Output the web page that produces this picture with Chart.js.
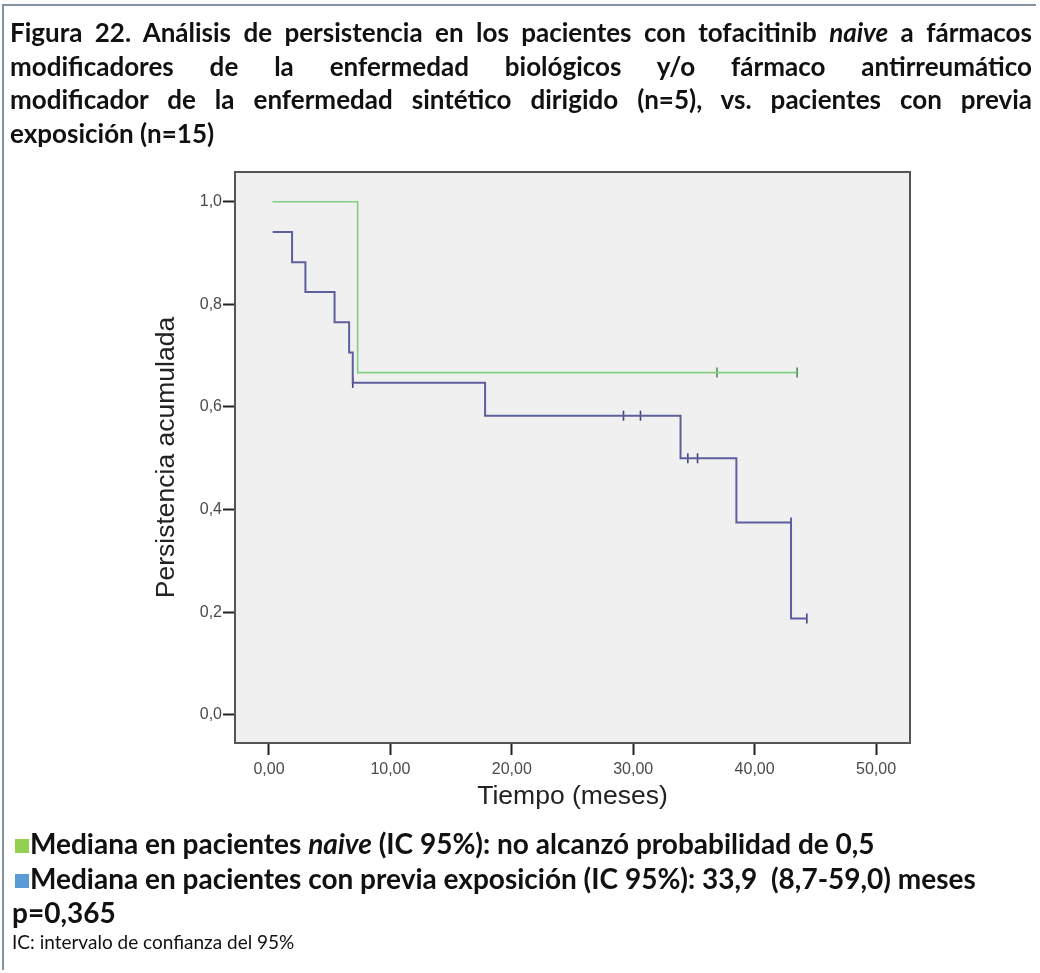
<!DOCTYPE html>
<html>
<head>
<meta charset="utf-8">
<script src="https://cdn.jsdelivr.net/npm/chart.js@4"></script>
<style>
  html, body { margin:0; padding:0; background:#fff; }
  #wrap { position:relative; width:1040px; height:973px; overflow:hidden; }
  #frame { position:absolute; left:2px; top:4px; width:1034px; height:966px; border:2px solid #8593a0; border-right:none; border-bottom:none; box-sizing:border-box; }
  canvas { position:absolute; left:0; top:0; }
  .title { position:absolute; left:10px; top:16px; width:1022px; font-family:Lato, "Noto Sans", sans-serif; font-weight:700; font-size:26px; color:#111; line-height:33.5px; }
  .jl { text-align:justify; text-align-last:justify; white-space:nowrap; }
  .foot { position:absolute; left:15px; font-family:Lato, "Noto Sans", sans-serif; font-weight:700; font-size:28px; line-height:34px; color:#111; white-space:nowrap; }
  .sq { display:inline-block; width:14px; height:14px; margin-right:1px; vertical-align:1px; }
</style>
</head>
<body>
<div id="wrap">
  <canvas id="c" width="1040" height="973"></canvas>
  <div id="frame"></div>
  <div class="title">
    <div class="jl">Figura 22. Análisis de persistencia en los pacientes con tofacitinib <i>naive</i> a fármacos</div>
    <div class="jl">modificadores de la enfermedad biológicos y/o fármaco antirreumático</div>
    <div class="jl">modificador de la enfermedad sintético dirigido (n=5), vs. pacientes con previa</div>
    <div>exposición (n=15)</div>
  </div>
  <div class="foot" style="top:826px;"><span class="sq" style="background:#92D050"></span>Mediana en pacientes <i>naive</i> (IC 95%): no alcanzó probabilidad de 0,5</div>
  <div class="foot" style="top:861px;"><span class="sq" style="background:#5B9BD5"></span>Mediana en pacientes con previa exposición (IC 95%): 33,9&nbsp;&nbsp;(8,7-59,0) meses</div>
  <div class="foot" style="top:895px; left:12px;">p=0,365</div>
  <div class="foot" style="top:930px; left:12px; font-weight:400; font-size:19px; line-height:24px;">IC: intervalo de confianza del 95%</div>
</div>
<script>
// ---- data ----
const xTicks = [0, 10, 20, 30, 40, 50];
const xTickLabels = ['0,00', '10,00', '20,00', '30,00', '40,00', '50,00'];
const yTicks = [0, 0.2, 0.4, 0.6, 0.8, 1.0];
const yTickLabels = ['0,0', '0,2', '0,4', '0,6', '0,8', '1,0'];

// naive patients (green): event times and survival after each step
const naiveTimes = [0.3, 7.3, 43.5];
const naiveSurv  = [1.0, 0.667, 0.667];
const naiveCensorTimes = [36.9, 43.5];
const naiveCensorSurv  = [0.667, 0.667];

// previously exposed patients (blue)
const prevTimes = [0.3, 1.9, 3.0, 5.4, 6.6, 6.9, 17.8, 33.9, 38.5, 43.0, 44.3];
const prevSurv  = [0.941, 0.882, 0.824, 0.765, 0.706, 0.647, 0.583, 0.5, 0.375, 0.1875, 0.1875];
const prevCensorTimes = [6.9, 29.2, 30.6, 34.5, 35.3, 43.0, 44.3];
const prevCensorSurv  = [0.647, 0.583, 0.583, 0.5, 0.5, 0.375, 0.1875];

const toPts = (xs, ys) => xs.map((x, i) => ({ x: x, y: ys[i] }));

const plotBg = {
  id: 'plotBg',
  beforeDatasetsDraw(chart) {
    const a = chart.chartArea, ctx = chart.ctx;
    ctx.save();
    ctx.fillStyle = '#f0f0f0';
    ctx.fillRect(a.left, a.top, a.right - a.left, a.bottom - a.top);
    ctx.restore();
  },
  afterDatasetsDraw(chart) {
    const a = chart.chartArea, ctx = chart.ctx;
    ctx.save();
    ctx.strokeStyle = '#555';
    ctx.lineWidth = 2;
    ctx.strokeRect(a.left, a.top, a.right - a.left, a.bottom - a.top);
    ctx.restore();
  }
};

const tickFont = { family: 'Arial, "Liberation Sans", sans-serif', size: 16 };
const titleFont = { family: 'Arial, "Liberation Sans", sans-serif', size: 26.5 };

new Chart(document.getElementById('c'), {
  type: 'line',
  data: {
    datasets: [
      { data: toPts(naiveTimes, naiveSurv), borderColor: '#7fd07f', borderWidth: 1.6, stepped: 'before', pointRadius: 0, fill: false },
      { data: toPts(prevTimes, prevSurv), borderColor: '#5d5f9c', borderWidth: 2, stepped: 'before', pointRadius: 0, fill: false },
      { type: 'scatter', data: toPts(naiveCensorTimes, naiveCensorSurv), pointStyle: 'line', rotation: 90, pointRadius: 5, borderColor: '#4d8a4d', borderWidth: 1.6, showLine: false },
      { type: 'scatter', data: toPts(prevCensorTimes, prevCensorSurv), pointStyle: 'line', rotation: 90, pointRadius: 5, borderColor: '#3f417f', borderWidth: 1.6, showLine: false }
    ]
  },
  options: {
    responsive: false,
    animation: false,
    events: [],
    layout: { padding: { left: 147, top: 172, right: 130, bottom: 156 } },
    plugins: { legend: { display: false }, tooltip: { enabled: false } },
    scales: {
      x: {
        type: 'linear', min: -2.8, max: 52.8,
        afterBuildTicks: s => { s.ticks = xTicks.map(v => ({ value: v })); },
        afterFit: s => { s.height = 74; },
        grid: { drawOnChartArea: false, drawTicks: true, tickLength: 12, tickWidth: 2, tickColor: '#222' },
        border: { display: false },
        ticks: { font: tickFont, color: '#4a4a4a', padding: 5, maxRotation: 0, callback: (v, i) => xTickLabels[i] },
        title: { display: true, text: 'Tiempo (meses)', font: titleFont, color: '#222', padding: { top: 4, bottom: 4 } }
      },
      y: {
        type: 'linear', min: -0.055, max: 1.058,
        afterBuildTicks: s => { s.ticks = yTicks.map(v => ({ value: v })); },
        afterFit: s => { s.width = 88; },
        grid: { drawOnChartArea: false, drawTicks: true, tickLength: 12, tickWidth: 2, tickColor: '#222' },
        border: { display: false },
        ticks: { font: tickFont, color: '#4a4a4a', padding: 1, callback: (v, i) => yTickLabels[i] },
        title: { display: true, text: 'Persistencia acumulada', font: titleFont, color: '#222', padding: { top: 4, bottom: 4 } }
      }
    }
  },
  plugins: [plotBg]
});
</script>
</body>
</html>
